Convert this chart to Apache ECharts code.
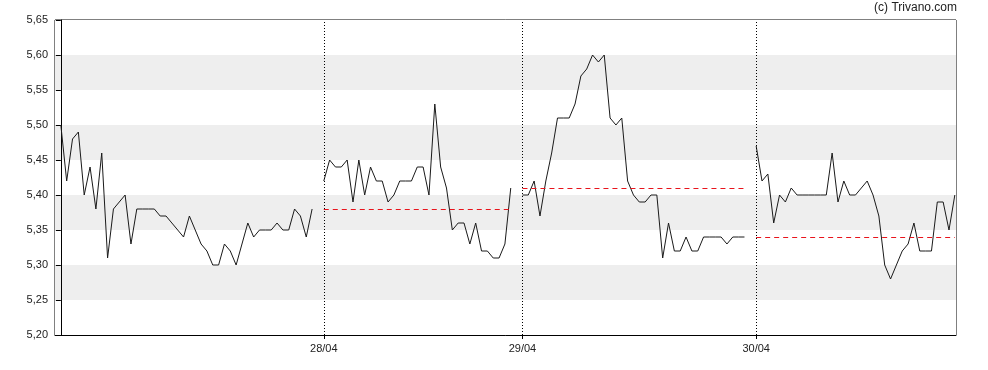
<!DOCTYPE html>
<html>
<head>
<meta charset="utf-8">
<script src="https://cdn.jsdelivr.net/npm/echarts@6/dist/echarts.min.js"></script>
<style>html,body{margin:0;padding:0;background:#fff}#c{width:988px;height:370px}</style>
</head>
<body>
<div id="c"></div>
<script>
var dayLabels = ['27/04', '28/04', '29/04', '30/04'];
var day1 = [5.50,5.42,5.48,5.49,5.40,5.44,5.38,5.46,5.31,5.38,5.39,5.40,5.33,5.38,5.38,5.38,5.38,5.37,5.37,5.36,5.35,5.34,5.37,5.35,5.33,5.32,5.30,5.30,5.33,5.32,5.30,5.33,5.36,5.34,5.35,5.35,5.35,5.36,5.35,5.35,5.38,5.37,5.34,5.38];
var day2 = [5.42,5.45,5.44,5.44,5.45,5.39,5.45,5.40,5.44,5.42,5.42,5.39,5.40,5.42,5.42,5.42,5.44,5.44,5.40,5.53,5.44,5.41,5.35,5.36,5.36,5.33,5.36,5.32,5.32,5.31,5.31,5.33,5.41];
var day3 = [5.40,5.40,5.42,5.37,5.42,5.46,5.51,5.51,5.51,5.53,5.57,5.58,5.60,5.59,5.60,5.51,5.50,5.51,5.42,5.40,5.39,5.39,5.40,5.40,5.31,5.36,5.32,5.32,5.34,5.32,5.32,5.34,5.34,5.34,5.34,5.33,5.34,5.34,5.34];
var day4 = [5.47,5.42,5.43,5.36,5.40,5.39,5.41,5.40,5.40,5.40,5.40,5.40,5.40,5.46,5.39,5.42,5.40,5.40,5.41,5.42,5.40,5.37,5.30,5.28,5.30,5.32,5.33,5.36,5.32,5.32,5.32,5.39,5.39,5.35,5.40];
var dayLevels = [null, 5.38, 5.41, 5.34];
var yTicks = [5.20,5.25,5.30,5.35,5.40,5.45,5.50,5.55,5.60,5.65];

var days = [day1, day2, day3, day4];
var starts = [];
var series = [];
var pos = 0;
days.forEach(function (d, k) {
  starts.push(pos);
  var data = d.map(function (v, i) { return [pos + i, v]; });
  var s = {
    type: 'line', data: data, symbol: 'none', animation: false,
    lineStyle: { color: '#1a1a1a', width: 1 }, z: 3
  };
  var ml = [];
  if (dayLevels[k] != null) {
    ml.push([{ coord: [pos, dayLevels[k]], lineStyle: { color: '#e8141c', type: [5, 4], width: 1 } },
             { coord: [pos + d.length - 1, dayLevels[k]] }]);
  }
  if (k > 0) {
    ml.push({ xAxis: pos, lineStyle: { color: '#000', type: [1, 2], width: 1 } });
  }
  s.markLine = { silent: true, symbol: 'none', label: { show: false }, animation: false, data: ml };
  series.push(s);
  pos += d.length + 1;
});
var xMax = pos - 2;
var tickPositions = starts.slice(1);

var chart = echarts.init(document.getElementById('c'), null, { renderer: 'canvas' });
chart.setOption({
  animation: false,
  backgroundColor: '#fff',
  grid: { left: 55, right: 32, top: 20, bottom: 35, show: true, borderColor: '#000', borderWidth: 1, backgroundColor: 'transparent' },
  graphic: [{ type: 'text', right: 31, top: 2, style: { text: '(c) Trivano.com', font: '12px "Liberation Sans", Arial, sans-serif', fill: '#222' } }],
  xAxis: {
    type: 'value', min: -1, max: xMax + 0.2,
    axisLine: { show: true, lineStyle: { color: '#000' } },
    splitLine: { show: false },
    axisTick: { show: true, customValues: tickPositions, length: 4, lineStyle: { color: '#000' } },
    axisLabel: {
      customValues: tickPositions, color: '#222', fontSize: 11, margin: 8,
      fontFamily: '"Liberation Sans", Arial, sans-serif',
      formatter: function (v) { var i = tickPositions.indexOf(v); return i >= 0 ? dayLabels[i + 1] : ''; }
    }
  },
  yAxis: {
    type: 'value', min: yTicks[0], max: yTicks[yTicks.length - 1], interval: 0.05,
    axisLine: { show: true, lineStyle: { color: '#000' } },
    axisTick: { show: true, length: 5, lineStyle: { color: '#000' } },
    splitLine: { show: false },
    splitArea: { show: true, areaStyle: { color: ['#ffffff', '#eeeeee'] } },
    axisLabel: {
      color: '#222', fontSize: 11, margin: 7,
      fontFamily: '"Liberation Sans", Arial, sans-serif',
      formatter: function (v) { return v.toFixed(2).replace('.', ','); }
    }
  },
  series: series
});
</script>
</body>
</html>
